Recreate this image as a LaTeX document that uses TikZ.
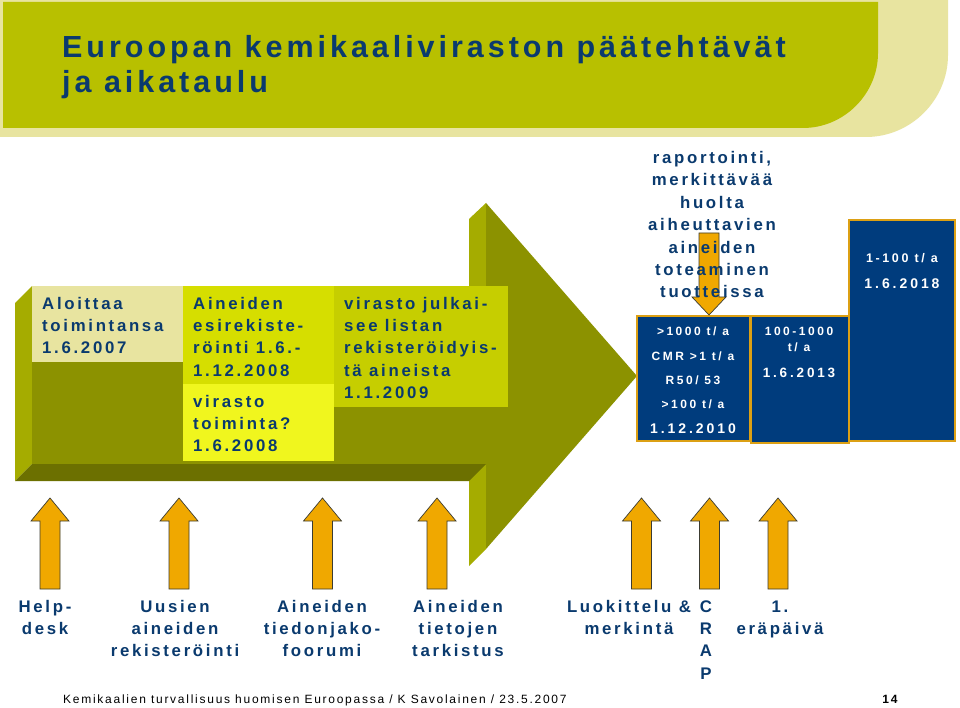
\documentclass[tikz,border=0pt]{standalone}
\usepackage{fontspec}
\setmainfont{Liberation Sans}
\newfontfamily\ttlfont[LetterSpace=13]{Liberation Sans}
\newfontfamily\lblfont[LetterSpace=16]{Liberation Sans}
\newfontfamily\smlfont[LetterSpace=21]{Liberation Sans}
\newfontfamily\ftrfont[LetterSpace=14.5]{Liberation Sans}
\definecolor{cbeige}{RGB}{232,228,160}
\definecolor{cgreen}{RGB}{184,192,0}
\definecolor{ofront}{RGB}{140,146,0}
\definecolor{oside}{RGB}{165,172,0}
\definecolor{odark}{RGB}{108,112,0}
\definecolor{cyg}{RGB}{214,222,0}
\definecolor{cyel}{RGB}{240,246,30}
\definecolor{cjul}{RGB}{198,206,0}
\definecolor{cblue}{RGB}{0,60,125}
\definecolor{cgold}{RGB}{220,160,20}
\definecolor{corange}{RGB}{240,168,0}
\definecolor{coutline}{RGB}{60,60,50}
\definecolor{tblue}{RGB}{10,58,110}
\tikzset{
  lbltext/.style={inner sep=0pt, text=tblue, font=\lblfont\bfseries\fontsize{16.8}{22.4}\selectfont},
  boxtext/.style={inner sep=0pt, text=white, align=center, font=\smlfont\bfseries\fontsize{12}{24.3}\selectfont},
  bluebox/.style={fill=cblue, draw=cgold, line width=1.2pt},
  orangearrow/.style={fill=corange, draw=coutline, line width=0.7pt, line join=miter},
  uparrow/.pic={\path[orangearrow] (-10,0) -- (-10,-68) -- (-19,-68) -- (0,-91) -- (19,-68) -- (10,-68) -- (10,0) -- cycle;}
}
\begin{document}
\begin{tikzpicture}[x=1pt,y=-1pt]
\useasboundingbox (0,0) rectangle (960,708);
\fill[white] (0,0) rectangle (960,708);
% title banner
\fill[cbeige] (0,0) -- (948,0) -- (948,55) .. controls (948,100) and (911,137) .. (866,137) -- (0,137) -- cycle;
\fill[cgreen] (3,2) -- (878,2) -- (878,53) .. controls (878,94) and (844,128) .. (803,128) -- (3,128) -- cycle;
\node[anchor=base west, inner sep=0pt, align=left, text=tblue, font=\ttlfont\bfseries\fontsize{30.5}{35}\selectfont] (title) at (62,93) {Euroopan kemikaaliviraston päätehtävät\\ja aikataulu};
% big 3D arrow
\fill[oside] (15,303) -- (32,286) -- (32,464) -- (15,481) -- cycle;
\fill[oside] (469,219) -- (486,203) -- (486,549) -- (469,566) -- cycle;
\fill[odark] (32,464) -- (486,464) -- (469,481) -- (15,481) -- cycle;
\fill[ofront] (32,286) rectangle (486,464);
\fill[ofront] (486,203) -- (637,376) -- (486,549) -- cycle;
% boxes on arrow
\fill[cbeige] (32,286) rectangle (183,362);
\fill[cyg] (183,286) rectangle (334,384);
\fill[cyel] (183,384) rectangle (334,461);
\fill[cjul] (334,286) rectangle (508,407);
\node[lbltext, anchor=base west, align=left] (t1) at (42,353.8) {Aloittaa\\toimintansa\\1.6.2007};
\node[lbltext, anchor=base west, align=left] (t2) at (193,376.2) {Aineiden\\esirekiste-\\röinti 1.6.-\\1.12.2008};
\node[lbltext, anchor=base west, align=left] (t3) at (193,451.8) {virasto\\toiminta?\\1.6.2008};
\node[lbltext, anchor=base west, align=left] (t4) at (344,398.6) {virasto julkai-\\see listan\\rekisteröidyis-\\tä aineista\\1.1.2009};
% blue boxes
\fill[bluebox] (637,316) rectangle (750,441);
\fill[bluebox] (751,316) rectangle (849,443);
\fill[bluebox] (849,220) rectangle (955,441);
\node[boxtext, anchor=base] (b1) at (693,433) {>1000 t/ a\\CMR >1 t/ a\\R50/ 53\\>100 t/ a\\{\fontsize{14}{24.3}\selectfont 1.12.2010}};
\node[boxtext, anchor=base, font=\smlfont\bfseries\fontsize{12}{16}\selectfont] (b2) at (799,377) {100-1000\\t/ a\\[9.5pt]{\fontsize{13.5}{16}\selectfont 1.6.2013}};
\node[boxtext, anchor=base, font=\smlfont\bfseries\fontsize{12.5}{26}\selectfont] (b3) at (902,289) {1-100 t/ a\\{\fontsize{14}{26}\selectfont 1.6.2018}};
% down arrow and text
\path[orangearrow] (699,233) -- (719,233) -- (719,297) -- (726,297) -- (709,315) -- (692,297) -- (699,297) -- cycle;
\node[lbltext, anchor=base, align=center] (rap) at (712,297.9) {raportointi,\\merkittävää\\huolta\\aiheuttavien\\aineiden\\toteaminen\\tuotteissa};
% up arrows
\path (50,589) pic {uparrow};
\path (179,589) pic {uparrow};
\path (322.5,589) pic {uparrow};
\path (437,589) pic {uparrow};
\path (641.5,589) pic {uparrow};
\path (709.5,589) pic {uparrow};
\path (778,589) pic {uparrow};
\node[lbltext, anchor=base, align=center] (l1) at (45,634.4) {Help-\\desk};
\node[lbltext, anchor=base, align=center] (l2) at (175,656.8) {Uusien\\aineiden\\rekisteröinti};
\node[lbltext, anchor=base, align=center] (l3) at (322,656.8) {Aineiden\\tiedonjako-\\foorumi};
\node[lbltext, anchor=base, align=center] (l4) at (458,656.8) {Aineiden\\tietojen\\tarkistus};
\node[lbltext, anchor=base, align=center] (l5) at (629,634.4) {Luokittelu \&\\merkintä};
\node[lbltext, anchor=base, align=center] (l6) at (706,679.2) {C\\R\\A\\P};
\node[lbltext, anchor=base, align=center] (l7) at (780,634.4) {1.\\eräpäivä};
% footer
\node[anchor=base west, inner sep=0pt, text=black, font=\ftrfont\fontsize{12}{14}\selectfont] (foot) at (63,703.5) {Kemikaalien turvallisuus huomisen Euroopassa / K Savolainen / 23.5.2007};
\node[anchor=base, inner sep=0pt, text=black, font=\ftrfont\bfseries\fontsize{12}{14}\selectfont] (page) at (890,703.5) {14};
\end{tikzpicture}
\end{document}
